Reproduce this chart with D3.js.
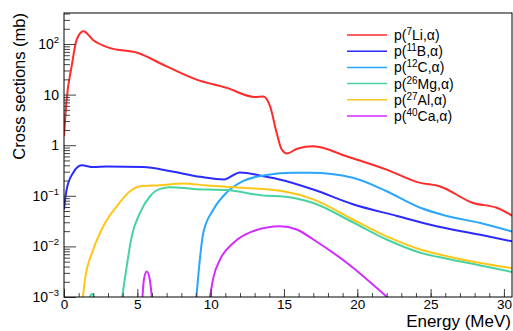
<!DOCTYPE html>
<html>
<head>
<meta charset="utf-8">
<script src="https://cdn.jsdelivr.net/npm/d3@7/dist/d3.min.js"></script>
<style>
  body { margin: 0; background: #fff; }
  svg { display: block; font-family: "Liberation Sans", Arial, sans-serif; }
</style>
</head>
<body>
<svg id="chart" width="513" height="331"></svg>
<script>
// values (energy in MeV, cross section in mb)
const liE  = [0, 0.18, 0.52, 0.87, 1.32, 2.0, 3.1, 5.0, 7.0, 9.0, 11.1, 13.0, 13.6, 14.05, 14.5, 14.85, 15.2, 15.9, 17.0, 19.3, 22.0, 24.3, 25.6, 27.9, 29.5, 30.6];
const liXS = [1.5, 8, 36, 123, 178, 119, 84, 67, 36, 20, 13.6, 9.0, 9.2, 5.9, 1.76, 0.82, 0.685, 0.85, 0.95, 0.6, 0.33, 0.18, 0.155, 0.072, 0.058, 0.04];

const bE  = [0, 0.18, 0.64, 1.2, 2.0, 2.9, 5.4, 7.2, 9.3, 10.9, 12.0, 13.8, 14.7, 17.0, 19.7, 22.7, 25.4, 28.4, 30.6];
const bXS = [0.054, 0.133, 0.29, 0.40, 0.37, 0.38, 0.37, 0.31, 0.237, 0.21, 0.29, 0.237, 0.21, 0.133, 0.068, 0.04, 0.025, 0.017, 0.0125];

const cE  = [9.0, 9.5, 10.2, 11.1, 12.2, 13.8, 15.6, 16.8, 19.7, 22.0, 24.3, 26.1, 28.4, 30.6];
const cXS = [0.0008, 0.0186, 0.054, 0.117, 0.195, 0.257, 0.285, 0.285, 0.227, 0.123, 0.058, 0.04, 0.029, 0.0195];

const mgE  = [1.7, 1.9, 2.1, 3.0, 3.95, 4.28, 4.62, 5.18, 5.87, 6.55, 7.23, 8.82, 11.1, 13.83, 14.73, 17.0, 19.7, 22.0, 24.3, 26.1, 28.4, 30.6];
const mgXS = [0.0009, 0.00115, 0.0009, null, 0.0009, 0.0041, 0.0158, 0.046, 0.098, 0.137, 0.148, 0.137, 0.13, 0.1, 0.098, 0.072, 0.030, 0.0137, 0.0075, 0.0057, 0.0042, 0.0031];

const alE  = [1.28, 1.43, 2.0, 2.68, 3.6, 4.5, 5.18, 6.55, 8.14, 9.73, 12.2, 14.96, 17.0, 19.7, 22.0, 24.3, 26.1, 28.4, 30.6];
const alXS = [0.0009, 0.0022, 0.0087, 0.025, 0.062, 0.123, 0.155, 0.162, 0.175, 0.16, 0.144, 0.123, 0.085, 0.034, 0.0158, 0.0087, 0.0064, 0.0047, 0.0037];

const caE  = [5.33, 5.45, 5.64, 5.85, 6.02, 8.0, 9.9, 10.2, 10.64, 11.55, 12.9, 14.73, 15.87, 17.0, 19.3, 22.2];
const caXS = [0.0008, 0.0022, 0.0032, 0.0022, 0.0008, null, 0.0008, 0.0025, 0.0055, 0.0117, 0.02, 0.025, 0.0216, 0.0137, 0.0047, 0.0009];

const massNumbers = ['7', '11', '12', '26', '27', '40'];
const elements = ['Li', 'B', 'C', 'Mg', 'Al', 'Ca'];
const colors = ['#ff2a2a', '#2b2bff', '#2aa6ff', '#47d3a0', '#ffc61a', '#d22bff'];

const xMajor = [0, 5, 10, 15, 20, 25, 30];
const yMajor = [1e-3, 1e-2, 1e-1, 1, 10, 100];

const series = [
  [liE, liXS], [bE, bXS], [cE, cXS], [mgE, mgXS], [alE, alXS], [caE, caXS]
].map(([e, xs], i) => ({
  points: e.map((v, j) => [v, xs[j]]),
  color: colors[i],
  mass: massNumbers[i],
  el: elements[i]
}));

const MARGINS = { top: 13, bottom: 34, left: 64, right: 1 };
const svg = d3.select('#chart');
const W = +svg.attr('width'), H = +svg.attr('height');

const x = d3.scaleLinear().domain([0, 30.55]).range([MARGINS.left, W - MARGINS.right]);
const y = d3.scaleLog().domain([1e-3, 410]).range([H - MARGINS.bottom, MARGINS.top]);

svg.append('defs').append('clipPath').attr('id', 'plot')
  .append('rect')
  .attr('x', x.range()[0]).attr('y', y.range()[1])
  .attr('width', x.range()[1] - x.range()[0])
  .attr('height', y.range()[0] - y.range()[1]);

// curves
const line = d3.line()
  .defined(d => d[1] != null)
  .x(d => x(d[0]))
  .y(d => y(d[1]))
  .curve(d3.curveMonotoneX);

svg.append('g').attr('clip-path', 'url(#plot)')
  .selectAll('path')
  .data(series)
  .join('path')
  .attr('fill', 'none')
  .attr('stroke', d => d.color)
  .attr('stroke-width', 2)
  .attr('d', d => line(d.points));

// x axis: minor + major ticks pointing inward
const xBase = y.range()[0];
svg.append('g')
  .attr('transform', `translate(0,${xBase})`)
  .call(d3.axisBottom(x).tickValues(d3.range(0, 31)).tickSize(-4).tickFormat(''))
  .call(g => g.select('.domain').remove());

svg.append('g')
  .attr('transform', `translate(0,${xBase})`)
  .call(d3.axisBottom(x).tickValues(xMajor).tickSizeInner(-8).tickSizeOuter(0).tickPadding(2))
  .call(g => g.select('.domain').remove())
  .call(g => g.selectAll('text').attr('font-size', 13.5).attr('fill', '#000'));

// y axis
const yMinor = [];
for (let n = -3; n <= 2; n++) {
  for (let k = 2; k <= 9; k++) {
    const v = k * Math.pow(10, n);
    if (v < y.domain()[1]) yMinor.push(v);
  }
}
const yBase = x.range()[0];
svg.append('g')
  .attr('transform', `translate(${yBase},0)`)
  .call(d3.axisLeft(y).tickValues(yMinor).tickSize(-6).tickFormat(''))
  .call(g => g.select('.domain').remove());

svg.append('g')
  .attr('transform', `translate(${yBase},0)`)
  .call(d3.axisLeft(y).tickValues(yMajor).tickSizeInner(-12).tickSizeOuter(0).tickPadding(5))
  .call(g => g.select('.domain').remove())
  .call(g => g.selectAll('text')
    .attr('font-size', 14)
    .attr('fill', '#000')
    .each(function(d) {
      const n = Math.round(Math.log10(d));
      const t = d3.select(this).text('');
      if (n === 0) { t.text('1'); return; }
      if (n === 1) { t.text('10'); return; }
      t.append('tspan').text('10');
      t.append('tspan').attr('dy', -6).attr('font-size', 9.5)
        .text(n < 0 ? '\u2212' + (-n) : n);
    }));

svg.selectAll('.tick line').attr('stroke', '#444');

// frame
svg.append('rect')
  .attr('x', x.range()[0]).attr('y', y.range()[1])
  .attr('width', x.range()[1] - x.range()[0])
  .attr('height', y.range()[0] - y.range()[1])
  .attr('fill', 'none').attr('stroke', '#000').attr('stroke-width', 1);

// axis titles
svg.append('text')
  .attr('x', 511).attr('y', 327.3)
  .attr('text-anchor', 'end')
  .attr('font-size', 17)
  .text('Energy (MeV)');

svg.append('text')
  .attr('transform', 'translate(25,13) rotate(-90)')
  .attr('text-anchor', 'end')
  .attr('font-size', 16.5)
  .text('Cross sections (mb)');

// legend
const legend = svg.append('g').attr('transform', 'translate(347,35)');
const rows = legend.selectAll('g').data(series).join('g')
  .attr('transform', (d, i) => `translate(0,${i * 16.2})`);
rows.append('line')
  .attr('x1', 0).attr('x2', 40)
  .attr('stroke', d => d.color).attr('stroke-width', 1.5);
const lt = rows.append('text').attr('x', 47).attr('y', 5).attr('font-size', 14);
lt.append('tspan').text('p(');
lt.append('tspan').attr('dy', -5).attr('font-size', 10).text(d => d.mass);
lt.append('tspan').attr('dy', 5).text(d => d.el + ',\u03b1)');
</script>
</body>
</html>
